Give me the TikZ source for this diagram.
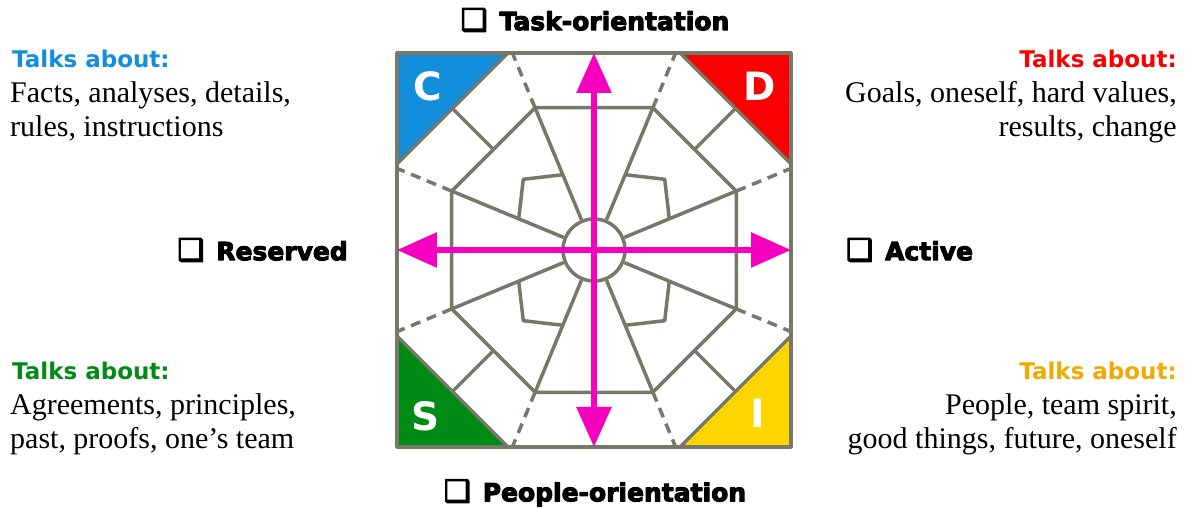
\documentclass[tikz,border=0pt]{standalone}
\usepackage{fontspec}
\setmainfont{Liberation Serif}
\newfontfamily\headfont{DejaVu Sans}
\newfontfamily\heavyfont[FakeBold=4]{DejaVu Sans}
\usetikzlibrary{arrows.meta}

\definecolor{lgray}{RGB}{120,120,104}
\definecolor{apink}{RGB}{245,0,190}
\definecolor{cblue}{RGB}{18,142,218}
\definecolor{dred}{RGB}{250,0,0}
\definecolor{sgreen}{RGB}{0,140,20}
\definecolor{iyellow}{RGB}{255,214,0}
\definecolor{torange}{RGB}{242,170,0}

\newcommand{\tickbox}{{\fontsize{30}{30}\selectfont ❑}\hspace{12pt}}

\begin{document}
\begin{tikzpicture}[x=1pt, y=1pt, line join=round,
    wire/.style={draw=lgray, line width=3.5pt},
    cut/.style={wire, dash pattern=on 10pt off 7pt},
    axis/.style={draw=apink, line width=6pt,
      {Triangle[length=40pt,width=34pt]}-{Triangle[length=40pt,width=34pt]}},
    corner/.style={fill=#1, draw=lgray, line width=3.5pt},
    letter/.style={text=white, inner sep=0pt, font=\headfont\bfseries\fontsize{39}{39}\selectfont},
    talk/.style={text=#1, inner sep=0pt, font=\headfont\bfseries\fontsize{23}{23}\selectfont},
    body/.style={inner sep=0pt, font=\fontsize{30}{34}\selectfont},
    pole/.style={inner sep=0pt, font=\heavyfont\bfseries\fontsize{25}{25}\selectfont}]

      \useasboundingbox (-594,-258) rectangle (595,250);

      % coloured corners
      \draw[corner=cblue]   (-197,197) -- (-86,197) -- (-197,86) -- cycle;
      \draw[corner=dred]    (197,197) -- (86,197) -- (197,86) -- cycle;
      \draw[corner=sgreen]  (-197,-197) -- (-86,-197) -- (-197,-86) -- cycle;
      \draw[corner=iyellow] (197,-197) -- (86,-197) -- (197,-86) -- cycle;

      \node[letter] (lc) at (-166,164) {C};
      \node[letter] (ld) at (166,164) {D};
      \node[letter] (ls) at (-168,-166) {S};
      \node[letter] (li) at (164,-163) {I};

      % octagon
      \node[wire, circle, minimum size=62, inner sep=0pt] (hub) at (0,0) {};
      \foreach \i in {1,...,8} {
        \coordinate (o\i) at ({45*\i-22.5}:154);
        \coordinate (e\i) at ({45*\i-22.5}:213.2);
      }
      \draw[wire] (o1) \foreach \i in {2,...,8} {-- (o\i)} -- cycle;
      \foreach \i in {1,...,8} {
        \draw[wire] (o\i) -- (hub);
        \draw[cut] (o\i) -- (e\i);
      }
      \foreach \a in {45,135,225,315} {
        \draw[wire] (\a:142) -- (\a:200);
        \draw[wire] ({\a-22.5}:81.5) -- (\a:100) -- ({\a+22.5}:81.5);
      }

      \node[wire, minimum size=394, inner sep=0pt, outer sep=0pt] (frame) at (0,0) {};

      \draw[axis] (frame.north) -- (frame.south);
      \draw[axis] (frame.west) -- (frame.east);

      % poles
      \node[pole] (task) at (1,230) {\tickbox Task-orientation};
      \node[pole] (people) at (1,-243) {\tickbox People-orientation};
      \node[pole, anchor=east] (reserved) at (-246,0) {\tickbox Reserved};
      \node[pole, anchor=west] (active) at (252,0) {\tickbox Active};

      % talks about
      \node[talk=cblue, anchor=base west] (ct) at (-582,182) {Talks about:};
      \node[body, anchor=base west, align=left] (cb) at (-584,113) {Facts, analyses, details,\\rules, instructions};
      \node[talk=dred, anchor=base east] (dt) at (583,182) {Talks about:};
      \node[body, anchor=base east, align=right] (db) at (583,113) {Goals, oneself, hard values,\\results, change};
      \node[talk=sgreen, anchor=base west] (st) at (-582,-130) {Talks about:};
      \node[body, anchor=base west, align=left] (sb) at (-584,-199) {Agreements, principles,\\past, proofs, one’s team};
      \node[talk=torange, anchor=base east] (it) at (583,-130) {Talks about:};
      \node[body, anchor=base east, align=right] (ib) at (583,-199) {People, team spirit,\\good things, future, oneself};
\end{tikzpicture}
\end{document}
